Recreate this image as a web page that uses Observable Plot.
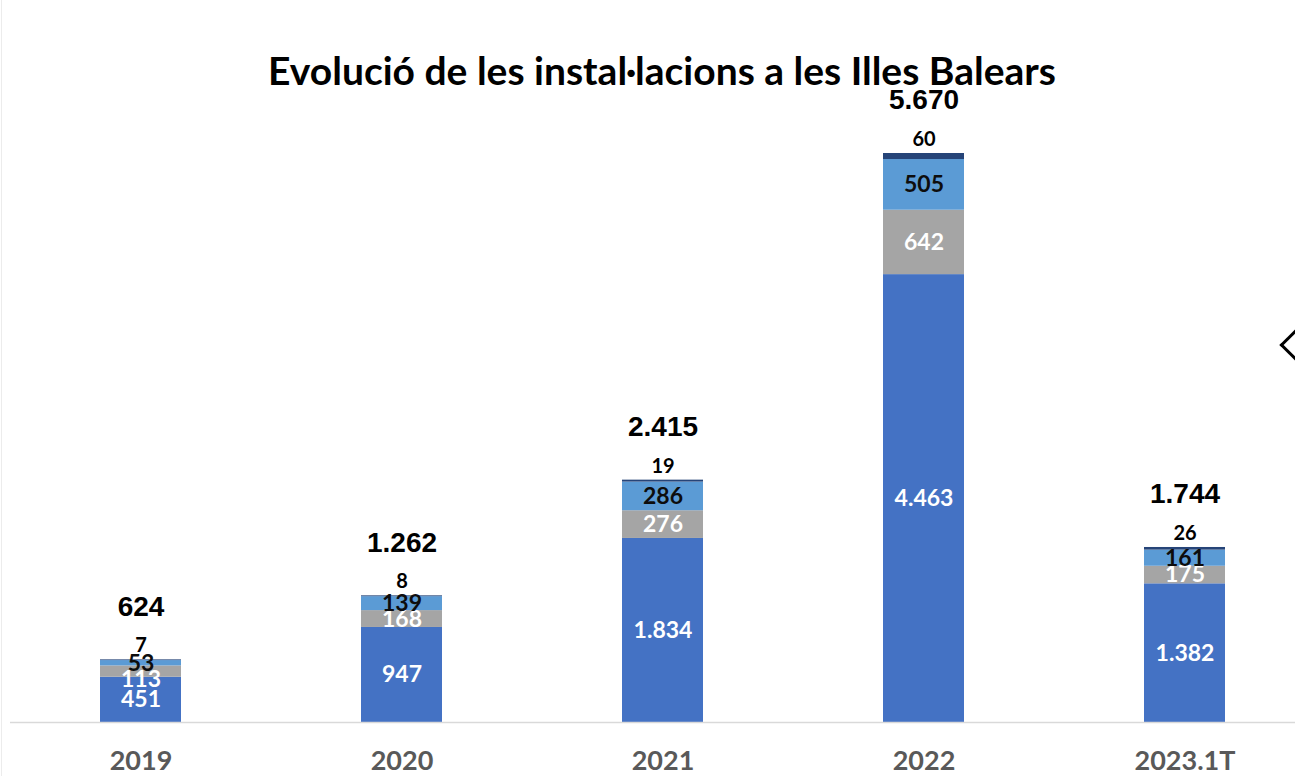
<!DOCTYPE html>
<html>
<head>
<meta charset="utf-8">
<script src="https://cdn.jsdelivr.net/npm/d3@7"></script>
<script src="https://cdn.jsdelivr.net/npm/@observablehq/plot@0.6"></script>
<style>
  html, body { margin: 0; padding: 0; background: #fff; overflow: hidden; }
  #wrap { position: relative; width: 1295px; height: 776px; }
  #title { box-sizing: border-box; height: 110px; padding-top: 48px; padding-left: 29px;
    font-family: Lato, "Open Sans", sans-serif; font-weight: bold; font-size: 39px; line-height: 44px;
    text-align: center; color: #000; white-space: nowrap; }
  #edge { position: absolute; left: 1px; top: 0; width: 0; height: 776px; border-left: 1px solid #ececec; }
  #chev { position: absolute; left: 1284px; top: 334px; width: 22px; height: 22px;
    border-left: 3px solid #000; border-bottom: 3px solid #000; transform: rotate(45deg); box-sizing: border-box; }
  #chart svg { display: block; }
</style>
</head>
<body>
<div id="wrap">
  <div id="edge"></div>
  <div id="title">Evolució de les instal·lacions a les Illes Balears</div>
  <div id="chart"></div>
  <div id="chev"></div>
</div>
<script>
// ---- data ----
const years = ["2019", "2020", "2021", "2022", "2023.1T"];
const seriesNames = ["Sèrie 1", "Sèrie 2", "Sèrie 3", "Sèrie 4"];
const serie1 = [451, 947, 1834, 4463, 1382];
const serie2 = [113, 168, 276, 642, 175];
const serie3 = [53, 139, 286, 505, 161];
const serie4 = [7, 8, 19, 60, 26];
const colors = ["#4472C4", "#A5A5A5", "#5B9BD5", "#264478"];

const values = [serie1, serie2, serie3, serie4];
const data = years.flatMap((yr, i) => seriesNames.map((s, j) => ({year: yr, series: s, value: values[j][i]})));

const fmt = d3.formatLocale({decimal: ",", thousands: ".", grouping: [3], currency: ["", " €"]}).format(",");

// label placement (segment centres, pushed down when too close)
const sep = 160;
const segLabels = [];
const topLabels = [];
const totals = [];
years.forEach((yr, i) => {
  let base = 0;
  const mids = values.map(v => { const m = base + v[i] / 2; base += v[i]; return m; });
  totals.push({year: yr, total: base});
  const y3 = mids[2];
  const y2 = Math.min(mids[1], y3 - sep);
  const y1 = Math.min(mids[0], y2 - sep);
  segLabels.push({year: yr, series: 0, y: y1, value: values[0][i]});
  segLabels.push({year: yr, series: 1, y: y2, value: values[1][i]});
  segLabels.push({year: yr, series: 2, y: y3, value: values[2][i]});
  topLabels.push({year: yr, y: base, value: values[3][i]});
});

const labelFont = "Lato, 'Open Sans', sans-serif";

const chart = Plot.plot({
  width: 1295,
  height: 666,
  marginTop: 43,
  marginBottom: 54,
  marginLeft: 10,
  marginRight: 0,
  style: {overflow: "visible", background: "transparent"},
  x: {domain: years, range: [9.5, 1314.5], paddingInner: 0.69, paddingOuter: 0.345, axis: null, label: null},
  y: {domain: [0, d3.max(totals, d => d.total)], axis: null},
  color: {domain: seriesNames, range: colors},
  marks: [
    Plot.barY(data, {x: "year", y: "value", fill: "series"}),
    Plot.ruleY([0], {stroke: "#d9d9d9", strokeWidth: 1.5}),
    Plot.axisX({tickSize: 0, tickPadding: 28, label: null, fontSize: 27, fontWeight: "bold", fill: "#595959", fontFamily: labelFont}),
    Plot.text(segLabels.filter(d => d.series < 2), {x: "year", y: "y", text: d => fmt(d.value), fill: "#fff",
      fontSize: 23, fontWeight: "bold", fontFamily: labelFont}),
    Plot.text(segLabels.filter(d => d.series === 2), {x: "year", y: "y", text: d => fmt(d.value), fill: "#0d0d0d",
      fontSize: 23, fontWeight: "bold", fontFamily: labelFont}),
    Plot.text(topLabels, {x: "year", y: "y", text: d => fmt(d.value), fill: "#000", dy: -14,
      fontSize: 20, fontWeight: "bold", fontFamily: labelFont}),
    Plot.text(totals, {x: "year", y: "total", text: d => fmt(d.total), fill: "#000", dy: -53,
      fontSize: 28, fontWeight: "bold", fontFamily: "'Liberation Sans', Arial, sans-serif"})
  ]
});
document.getElementById("chart").appendChild(chart);
</script>
</body>
</html>
